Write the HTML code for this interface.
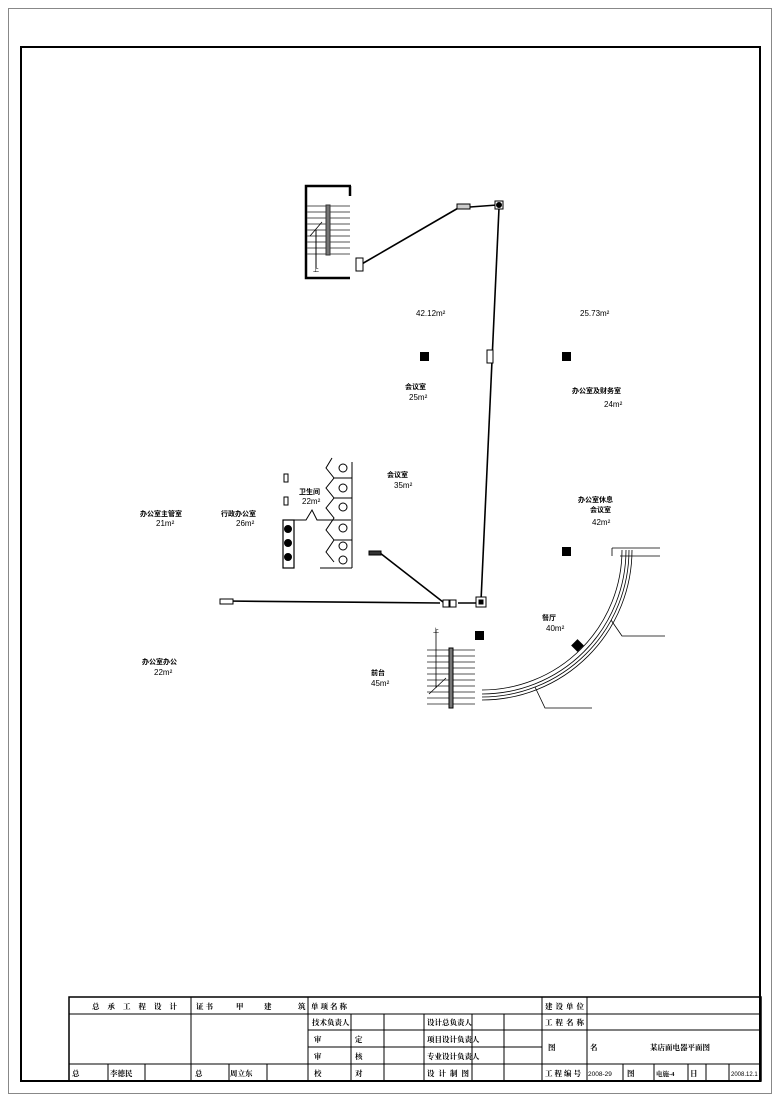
<!DOCTYPE html>
<html><head><meta charset="utf-8"><style>
html,body{margin:0;padding:0;background:#fff;}
svg{display:block;}
text{font-family:"Liberation Sans","Noto Sans CJK SC",sans-serif;fill:#000;}
.s{font-size:7px;font-weight:bold;}
.a{font-size:8px;}
.t{font-size:7.5px;font-family:"Liberation Serif","Noto Serif CJK SC",serif;font-weight:bold;}
</style></head><body>
<svg width="780" height="1101" viewBox="0 0 780 1101" xmlns="http://www.w3.org/2000/svg">
<rect x="0" y="0" width="780" height="1101" fill="#fff"/>
<rect x="8.5" y="8.5" width="763" height="1085" fill="none" stroke="#888" stroke-width="1"/>
<rect x="21" y="47" width="739" height="1034" fill="none" stroke="#000" stroke-width="2"/>

<!-- top stair -->
<g stroke="#000" fill="none">
<path d="M351,186 H306 V278 H350" stroke-width="2.5"/>
<line x1="350" y1="186" x2="350" y2="196" stroke-width="2.5"/>
<g stroke-width="1" stroke="#555">
<line x1="307" y1="206" x2="350" y2="206"/><line x1="307" y1="212" x2="350" y2="212"/>
<line x1="307" y1="218" x2="350" y2="218"/><line x1="307" y1="224" x2="350" y2="224"/>
<line x1="307" y1="230" x2="350" y2="230"/><line x1="307" y1="236" x2="350" y2="236"/>
<line x1="307" y1="242" x2="350" y2="242"/><line x1="307" y1="248" x2="350" y2="248"/>
<line x1="307" y1="254" x2="350" y2="254"/>
</g>
<rect x="326" y="205" width="4" height="50" fill="#777" stroke="#333" stroke-width="1"/>
<line x1="316" y1="268" x2="316" y2="230" stroke-width="1"/>
<line x1="310" y1="236" x2="322" y2="222" stroke-width="0.8"/>
</g>
<text x="313" y="272" style="font-size:6px">上</text>

<!-- connectors -->
<g stroke="#000" fill="none" stroke-width="1.6">
<line x1="360" y1="265" x2="460" y2="207"/>
<line x1="470" y1="207" x2="497" y2="205"/>
<line x1="499" y1="208" x2="481" y2="601"/>
<line x1="225" y1="601" x2="440" y2="603"/>
<line x1="458" y1="603" x2="476" y2="603"/>
<line x1="380" y1="553" x2="443" y2="602"/>
</g>
<g stroke="#000" fill="#fff" stroke-width="1">
<rect x="356" y="258" width="7" height="13"/>
<rect x="457" y="204" width="13" height="5" fill="#ccc"/>
<rect x="495" y="201" width="8" height="8"/>
<circle cx="499" cy="205" r="2.5" fill="#000"/>
<rect x="487" y="350" width="6" height="13"/>
<rect x="220" y="599" width="13" height="5"/>
<rect x="443" y="600" width="6" height="7"/><rect x="450" y="600" width="6" height="7"/>
<rect x="476" y="597" width="10" height="10"/>
<rect x="479" y="600" width="4" height="4" fill="#000"/>
<rect x="369" y="551" width="12" height="4" fill="#333"/>
</g>

<!-- black squares -->
<g fill="#000">
<rect x="420" y="352" width="9" height="9"/>
<rect x="562" y="352" width="9" height="9"/>
<rect x="562" y="547" width="9" height="9"/>
<rect x="475" y="631" width="9" height="9"/>
</g>

<!-- toilets -->
<g stroke="#000" fill="none" stroke-width="1">
<path d="M284,520 H306 L312,510 L317,520 H351"/>
<rect x="283" y="520" width="11" height="48" stroke-width="1.2"/>
<circle cx="288" cy="529" r="3.5" fill="#000"/><circle cx="288" cy="543" r="3.5" fill="#000"/><circle cx="288" cy="557" r="3.5" fill="#000"/>
<path d="M332,458 L326,468 L334,478 L326,488 L334,498 L326,508 L334,518 L326,530 L334,540 L326,552 L334,562"/>
<line x1="320" y1="568" x2="352" y2="568"/>
<line x1="352" y1="462" x2="352" y2="568"/>
<line x1="334" y1="478" x2="352" y2="478"/><line x1="334" y1="498" x2="352" y2="498"/>
<line x1="334" y1="540" x2="352" y2="540"/>
<ellipse cx="343" cy="468" rx="4" ry="4"/><ellipse cx="343" cy="488" rx="4" ry="4"/><ellipse cx="343" cy="507" rx="4" ry="4"/>
<ellipse cx="343" cy="528" rx="4" ry="4"/><ellipse cx="343" cy="546" rx="4" ry="4"/><ellipse cx="343" cy="560" rx="4" ry="4"/>
<path d="M284,474 h4 v8 h-4 z M284,497 h4 v8 h-4 z"/>
</g>

<!-- bottom stair -->
<g stroke="#000" fill="none">
<g stroke-width="1" stroke="#555">
<line x1="427" y1="650" x2="475" y2="650"/><line x1="427" y1="656" x2="475" y2="656"/>
<line x1="427" y1="662" x2="475" y2="662"/><line x1="427" y1="668" x2="475" y2="668"/>
<line x1="427" y1="674" x2="475" y2="674"/><line x1="427" y1="680" x2="475" y2="680"/>
<line x1="427" y1="686" x2="475" y2="686"/><line x1="427" y1="692" x2="475" y2="692"/>
<line x1="427" y1="698" x2="475" y2="698"/><line x1="427" y1="704" x2="475" y2="704"/>
</g>
<rect x="449" y="648" width="4" height="60" fill="#777" stroke="#000"/>
<line x1="436" y1="630" x2="436" y2="688" stroke-width="0.8"/>
<line x1="429" y1="694" x2="446" y2="678" stroke-width="0.8"/>
</g>
<text x="433" y="633" style="font-size:6px">上</text>

<!-- arc -->
<g stroke="#000" fill="none" stroke-width="0.8">
<path d="M622,550 A140,140 0 0 1 482,690"/>
<path d="M626,550 A144,144 0 0 1 482,694"/>
<path d="M629,550 A147,147 0 0 1 482,697"/>
<path d="M632,550 A150,150 0 0 1 482,700"/>
<path d="M612,548 H660 M620,556 H660 M612,548 V556"/>
<path d="M611,620 L622,636 H665"/>
<path d="M535,687 L545,708 H592"/>
</g>
<rect x="573" y="641" width="9" height="9" fill="#000" transform="rotate(45 577.5 645.5)"/>

<!-- labels -->
<text class="a" x="416" y="316">42.12m²</text>
<text class="a" x="580" y="316">25.73m²</text>
<text class="s" x="405" y="389">会议室</text>
<text class="a" x="409" y="400">25m²</text>
<text class="s" x="572" y="393">办公室及财务室</text>
<text class="a" x="604" y="407">24m²</text>
<text class="s" x="387" y="477">会议室</text>
<text class="a" x="394" y="488">35m²</text>
<text class="s" x="299" y="494">卫生间</text>
<text class="a" x="302" y="504">22m²</text>
<text class="s" x="140" y="516">办公室主管室</text>
<text class="a" x="156" y="526">21m²</text>
<text class="s" x="221" y="516">行政办公室</text>
<text class="a" x="236" y="526">26m²</text>
<text class="s" x="578" y="502">办公室休息</text>
<text class="s" x="590" y="512">会议室</text>
<text class="a" x="592" y="525">42m²</text>
<text class="s" x="542" y="620">餐厅</text>
<text class="a" x="546" y="631">40m²</text>
<text class="s" x="142" y="664">办公室办公</text>
<text class="a" x="154" y="675">22m²</text>
<text class="s" x="371" y="675">前台</text>
<text class="a" x="371" y="686">45m²</text>

<!-- title block -->
<g stroke="#000" fill="none" stroke-width="1">
<rect x="69" y="997" width="692" height="84" stroke-width="1.5"/>
<line x1="69" y1="1014" x2="761" y2="1014"/>
<line x1="69" y1="1064" x2="761" y2="1064"/>
<line x1="308" y1="1030" x2="542" y2="1030"/>
<line x1="308" y1="1047" x2="542" y2="1047"/>
<line x1="542" y1="1030" x2="761" y2="1030"/>
<line x1="191" y1="997" x2="191" y2="1081"/>
<line x1="308" y1="997" x2="308" y2="1081"/>
<line x1="351" y1="1014" x2="351" y2="1081"/>
<line x1="384" y1="1014" x2="384" y2="1081"/>
<line x1="424" y1="1014" x2="424" y2="1081"/>
<line x1="472" y1="1014" x2="472" y2="1081"/>
<line x1="504" y1="1014" x2="504" y2="1081"/>
<line x1="542" y1="997" x2="542" y2="1081"/>
<line x1="587" y1="997" x2="587" y2="1081"/>
<line x1="623" y1="1064" x2="623" y2="1081"/>
<line x1="654" y1="1064" x2="654" y2="1081"/>
<line x1="688" y1="1064" x2="688" y2="1081"/>
<line x1="706" y1="1064" x2="706" y2="1081"/>
<line x1="729" y1="1064" x2="729" y2="1081"/>
<line x1="108" y1="1064" x2="108" y2="1081"/>
<line x1="145" y1="1064" x2="145" y2="1081"/>
<line x1="229" y1="1064" x2="229" y2="1081"/>
<line x1="267" y1="1064" x2="267" y2="1081"/>
</g>
<text class="t" x="92" y="1009" letter-spacing="8">总承工程设计</text>
<text class="t" x="196" y="1009" letter-spacing="2">证书</text>
<text class="t" x="236" y="1009">甲</text><text class="t" x="264" y="1009">建</text><text class="t" x="298" y="1009">筑</text>
<text class="t" x="311" y="1009" letter-spacing="2">单项名称</text>
<text class="t" x="312" y="1025">技术负责人</text>
<text class="t" x="427" y="1025">设计总负责人</text>
<text class="t" x="314" y="1042">审</text><text class="t" x="355" y="1042">定</text>
<text class="t" x="427" y="1042">项目设计负责人</text>
<text class="t" x="314" y="1059">审</text><text class="t" x="355" y="1059">核</text>
<text class="t" x="427" y="1059">专业设计负责人</text>
<text class="t" x="72" y="1076">总</text><text class="t" x="110" y="1076">李德民</text>
<text class="t" x="195" y="1076">总</text><text class="t" x="230" y="1076">周立东</text>
<text class="t" x="314" y="1076">校</text><text class="t" x="355" y="1076">对</text>
<text class="t" x="427" y="1076" letter-spacing="4">设计制图</text>
<text class="t" x="545" y="1009" letter-spacing="3">建设单位</text>
<text class="t" x="545" y="1025" letter-spacing="3">工程名称</text>
<text class="t" x="548" y="1050">图</text><text class="t" x="590" y="1050">名</text>
<text class="t" x="650" y="1050">某店面电器平面图</text>
<text class="t" x="545" y="1076" letter-spacing="2">工程编号</text>
<text class="a" x="588" y="1076" style="font-size:6.5px">2008-29</text>
<text class="t" x="627" y="1076">图</text>
<text class="t" x="656" y="1076" style="font-size:6.5px">电施-4</text>
<text class="t" x="690" y="1076">日</text>
<text class="a" x="731" y="1076" style="font-size:6px">2008.12.1</text>
</svg>
</body></html>
